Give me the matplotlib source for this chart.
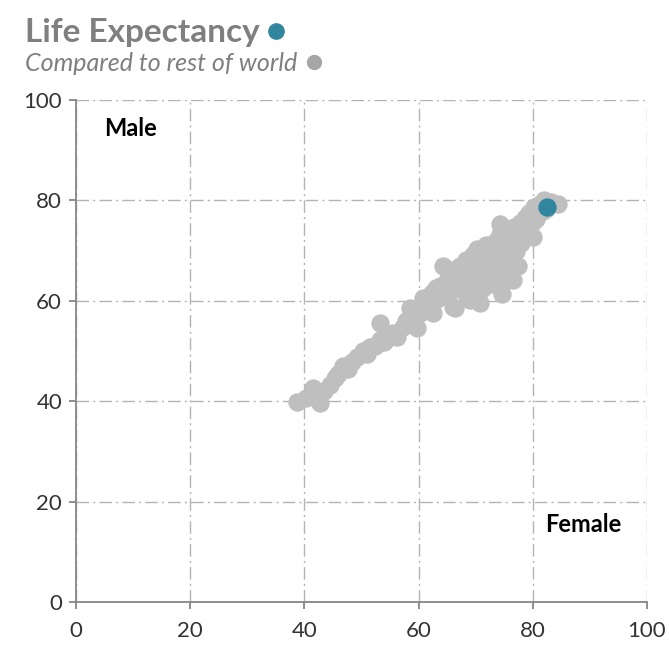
import numpy as np
import matplotlib.pyplot as plt
from matplotlib.lines import Line2D

# rest of world: female vs male life expectancy (years)
female = [38.7, 40.2, 41.5, 42.7, 43.5, 44.5, 45.3, 45.9, 46.8, 47.6,
          48.3, 49.2, 50.3, 51.0, 51.5, 52.3, 53.2, 53.2, 54.0, 54.6,
          55.5, 56.2, 57.3, 57.8, 58.5, 58.5, 59.2, 59.7, 60.3, 61.0,
          61.6, 62.5, 62.3, 63.2, 63.7, 64.3, 64.3, 65.2, 65.5, 66.0,
          66.4, 66.4, 67.0, 67.2, 67.8, 68.3, 68.5, 69.0, 69.2, 69.6,
          69.9, 70.3, 70.8, 70.8, 71.2, 71.6, 71.8, 72.2, 72.5, 72.8,
          73.2, 73.5, 73.8, 74.3, 74.3, 74.6, 74.9, 75.2, 75.4, 75.8,
          76.2, 76.5, 76.8, 77.2, 77.5, 77.8, 78.2, 78.6, 79.0, 79.4,
          79.8, 80.0, 80.3, 80.8, 81.3, 81.8, 82.4, 83.2, 84.4, 82.0,
          60.8, 62.0, 63.0, 65.0, 66.0, 68.0, 70.0, 71.0, 73.0, 74.0,
          75.0, 76.0, 77.0, 78.0, 79.0, 80.5, 81.0]
male = [39.8, 40.6, 42.6, 39.6, 42.0, 43.2, 44.6, 45.4, 47.0, 46.4,
        47.8, 48.8, 50.0, 49.4, 50.8, 51.0, 52.2, 55.6, 51.8, 52.6,
        53.6, 52.8, 54.8, 56.0, 58.6, 56.8, 55.4, 54.6, 57.6, 59.8,
        58.4, 57.6, 61.6, 60.4, 63.0, 62.0, 67.0, 64.6, 66.2, 58.8,
        58.6, 62.4, 65.2, 67.0, 63.6, 68.2, 61.0, 60.2, 66.0, 69.2,
        64.0, 70.4, 59.6, 67.6, 62.4, 65.2, 71.2, 68.4, 70.0, 63.4,
        66.4, 72.0, 69.2, 75.2, 73.4, 61.4, 67.0, 64.2, 71.0, 73.6,
        69.4, 64.2, 74.6, 72.2, 67.0, 75.4, 73.4, 76.4, 74.4, 77.4,
        75.4, 72.8, 78.6, 77.0, 79.2, 77.8, 78.2, 79.6, 79.2, 80.0,
        60.6, 60.0, 62.5, 61.5, 64.0, 65.5, 66.5, 69.5, 68.0, 70.5,
        72.5, 71.5, 70.0, 71.5, 76.0, 76.2, 78.2]

# highlighted country
hl_female = [82.5]
hl_male = [78.6]

ticks = [0, 20, 40, 60, 80, 100]

teal = '#31859c'
grey_pts = '#bfbfbf'
grey_txt = '#7f7f7f'

plt.rcParams['font.family'] = ['Lato', 'DejaVu Sans']

fig = plt.figure(figsize=(6.69, 6.48), dpi=100)
ax = fig.add_axes([0.1136, 0.071, 0.8534, 0.7747])

ax.scatter(female, male, s=175, color=grey_pts, linewidths=0, zorder=3)
ax.scatter(hl_female, hl_male, s=175, color=teal, linewidths=0, zorder=4)

ax.set_xlim(0, 100)
ax.set_ylim(0, 100)
ax.set_xticks(ticks)
ax.set_yticks(ticks)
ax.grid(True, color='#b3b3b3', linestyle=(0, (9, 3, 1.5, 3)), linewidth=1)
ax.set_axisbelow(True)
for s in ['top', 'right']:
    ax.spines[s].set_visible(False)
for s in ['left', 'bottom']:
    ax.spines[s].set_color('#868686')
    ax.spines[s].set_linewidth(1.3)
ax.tick_params(colors='#868686', labelcolor='#333333', labelsize=16,
               length=5, width=1.3, pad=5)
ax.tick_params(axis='x', pad=9)

ax.text(5.0, 94.4, 'Male', fontsize=17, fontweight='bold', va='center')
ax.text(82.2, 15.5, 'Female', fontsize=17, fontweight='bold', va='center')

t1 = fig.text(0.037, 0.950, 'Life Expectancy', fontsize=24,
              fontweight='bold', color=grey_txt, va='center')
t2 = fig.text(0.037, 0.902, 'Compared to rest of world', fontsize=18,
              style='italic', color=grey_txt, va='center')

fig.canvas.draw()
r = fig.canvas.get_renderer()
for t, c, ms in [(t1, teal, 11), (t2, '#a6a6a6', 10)]:
    bb = t.get_window_extent(r).transformed(fig.transFigure.inverted())
    fig.add_artist(Line2D([bb.x1 + 0.025], [(bb.y0 + bb.y1) / 2 + 0.002],
                          marker='o', color=c, markersize=ms,
                          transform=fig.transFigure))

plt.savefig('out.png', dpi=100)
